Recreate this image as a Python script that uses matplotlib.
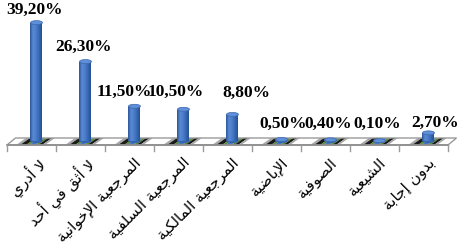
import unicodedata
import numpy as np
import matplotlib
matplotlib.use("Agg")
import matplotlib.pyplot as plt
from matplotlib.patches import Polygon, Ellipse
from matplotlib.colors import LinearSegmentedColormap

# ---------------- data ----------------
categories = ["لا أدري", "لا أثق في أحد", "المرجعية الإخوانية", "المرجعية السلفية",
              "المرجعية المالكية", "الإباضية", "الصوفية", "الشيعية", "بدون إجابة"]
values = [39.2, 26.3, 11.5, 10.5, 8.8, 0.5, 0.4, 0.1, 2.7]
value_labels = ["39,20%", "26,30%", "11,50%", "10,50%", "8,80%", "0,50%", "0,40%", "0,10%", "2,70%"]
# label nudges (pixels) relative to bar top
label_dx = [-2, -1.5, -10.5, -7.5, 14, 2, -2, -2, 7]
label_dy = [13, 15, 14, 17, 22, 16, 16, 17, 10]

# ---------------- simple Arabic shaping ----------------
RIGHT_JOIN = set("اأإآدذرزوؤةى")
ALEFS = {"ا": "", "أ": " WITH HAMZA ABOVE", "إ": " WITH HAMZA BELOW", "آ": " WITH MADDA ABOVE"}


def is_arabic_letter(c):
    return "\u0620" <= c <= "\u064A" and c != "\u0640"


def dual(c):
    return is_arabic_letter(c) and c not in RIGHT_JOIN and c != "ء"


def form(c, f):
    try:
        return unicodedata.lookup(unicodedata.name(c) + " " + f + " FORM")
    except KeyError:
        return c


def shape(text):
    units = []
    i = 0
    while i < len(text):
        c = text[i]
        if c == "ل" and i + 1 < len(text) and text[i + 1] in ALEFS:
            units.append(("LA", text[i + 1]))
            i += 2
        else:
            units.append(("C", c))
            i += 1
    out = []
    for j, (kind, c) in enumerate(units):
        prev = units[j - 1] if j > 0 else None
        nxt = units[j + 1] if j + 1 < len(units) else None
        jp = prev is not None and prev[0] == "C" and dual(prev[1])
        if kind == "LA":
            name = "ARABIC LIGATURE LAM WITH ALEF" + ALEFS[c] + (" FINAL FORM" if jp else " ISOLATED FORM")
            try:
                out.append(unicodedata.lookup(name))
            except KeyError:
                out.append("ل" + c)
            continue
        if not is_arabic_letter(c):
            out.append(c)
            continue
        jn = dual(c) and nxt is not None and (nxt[0] == "LA" or is_arabic_letter(nxt[1]))
        if jp and jn:
            out.append(form(c, "MEDIAL"))
        elif jp:
            out.append(form(c, "FINAL"))
        elif jn:
            out.append(form(c, "INITIAL"))
        else:
            out.append(form(c, "ISOLATED"))
    return "".join(out)[::-1]


# ---------------- figure ----------------
W, H = 464, 249
fig = plt.figure(figsize=(W / 100, H / 100), dpi=100)
ax = fig.add_axes([0, 0, 1, 1])
ax.axis("off")

X0, XS = 31.5, 49.0
Y0, YS = 141.0, 3.02


def X(px):
    return (px - X0) / XS


def Y(py):
    return (Y0 - py) / YS


xlim = (X(0), X(W))
ylim = (Y(H), Y(0))

n = len(values)
xs = np.arange(n)
bar_off = 5 / XS
bar_w = 12 / XS
depth_dx = 8.5 / XS

# floor
fl_b, fl_t = Y(145), Y(138)
floor = Polygon([(-0.5, fl_b), (n - 0.5, fl_b), (n - 0.5 + depth_dx, fl_t), (-0.5 + depth_dx, fl_t)],
                closed=True, facecolor="#ffffff", edgecolor="none", zorder=1)
ax.add_patch(floor)
slant = 10 / XS
bands = [(-16, -12, "#a8a8a8"), (-12, -6, "#1a1a1a"), (-6, -3, "#5a8a36"), (-3, 3, "#4676bd"),
         (3, 6, "#5a8a36"), (6, 10, "#1a1a1a"), (10, 13, "#a8a8a8")]
for k in range(n):
    cb = k - 0.5 + 25 / XS  # band centre at floor bottom
    for a, b_, col in bands:
        p0, p1 = cb + a / XS, cb + b_ / XS
        ax.add_patch(Polygon([(p0, fl_b), (p1, fl_b), (p1 + slant, fl_t), (p0 + slant, fl_t)],
                             closed=True, facecolor=col, edgecolor="none", zorder=1.5))
ax.add_patch(Polygon([(-0.5, fl_b), (n - 0.5, fl_b), (n - 0.5 + depth_dx, fl_t), (-0.5 + depth_dx, fl_t)],
                     closed=True, facecolor="none", edgecolor="#9a9a9a", lw=1.0, zorder=1.8))

# axis line and ticks
ax.plot([-0.5, n - 0.5], [fl_b, fl_b], color="#8c8c8c", lw=1.2, zorder=2)
for k in range(n + 1):
    ax.plot([k - 0.5, k - 0.5], [fl_b, Y(151)], color="#9a9a9a", lw=1.0, zorder=2)

# bars (cylinders)
cmap = LinearSegmentedColormap.from_list("cyl", ["#2b5597", "#5a8ad4", "#4b7dcb", "#3768b4", "#26508f"])
grad = np.linspace(0, 1, 64).reshape(1, -1)
bars = ax.bar(xs + bar_off, values, width=bar_w, color="#4472c4", edgecolor="none", zorder=3)
ell_h = 4.0 / YS
for b, v in zip(bars, values):
    x0 = b.get_x()
    im = ax.imshow(grad, cmap=cmap, extent=[x0, x0 + bar_w, 0, v], aspect="auto", zorder=3.1,
                   interpolation="bilinear")
    im.set_clip_path(b)
    ax.add_patch(Ellipse((x0 + bar_w / 2, 0), bar_w, ell_h, facecolor="#3465b0",
                         edgecolor="none", zorder=2.9))
    ax.add_patch(Ellipse((x0 + bar_w / 2, v), bar_w, ell_h, facecolor="#5f8fd8",
                         edgecolor="#3c68b0", lw=0.5, zorder=3.3))

# value labels
for i, (v, lab) in enumerate(zip(values, value_labels)):
    ax.annotate(lab, (xs[i] + bar_off, v), xytext=(label_dx[i], label_dy[i]),
                textcoords="offset pixels", ha="center", va="center",
                fontsize=12.5, fontweight="bold", family="Liberation Serif", color="black", zorder=5)

# category labels
for i, c in enumerate(categories):
    ax.text(xs[i] + 4 / XS, Y(155), shape(c), rotation=45, ha="right", va="top",
            rotation_mode="anchor", fontsize=11, family="DejaVu Sans", color="black")

ax.set_xlim(*xlim)
ax.set_ylim(*ylim)
fig.savefig("out.png", dpi=100)
